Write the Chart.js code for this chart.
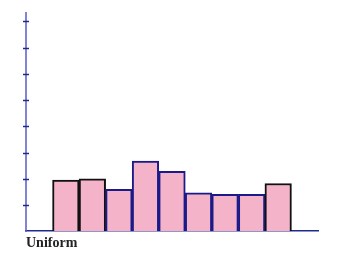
<!DOCTYPE html>
<html><head><meta charset="utf-8">
<script src="https://cdn.jsdelivr.net/npm/chart.js@4"></script>
<style>html,body{margin:0;padding:0;background:#fff}#wrap{width:338px;height:260px;position:relative}</style>
</head><body><div id="wrap"><canvas id="c"></canvas></div>
<script>
const categories = ["","1","2","3","4","5","6","7","8","9",""];
const values = [0, 1.95, 2.0, 1.6, 2.67, 2.28, 1.46, 1.41, 1.41, 1.82, 0];
const yTickValues = [1,2,3,4,5,6,7,8];
const xTitle = "Uniform";
const borderColors = ["#1a1a8a","#111111","#111111","#1a1a8a","#1a1a8a","#1a1a8a","#1a1a8a","#1a1a8a","#1a1a8a","#111111","#1a1a8a"];

const tickPlugin = {
  id: 'ytickmarks',
  afterDraw(chart) {
    const y = chart.scales.y, x = chart.scales.x;
    const ctx = chart.ctx;
    ctx.save();
    ctx.strokeStyle = '#1f2a8f';
    ctx.lineWidth = 1.5;
    yTickValues.forEach(v => {
      const py = Math.round(y.getPixelForValue(v)) + 0.5;
      ctx.beginPath();
      ctx.moveTo(x.left - 3, py);
      ctx.lineTo(x.left + 3, py);
      ctx.stroke();
    });
    ctx.restore();
  }
};

new Chart(document.getElementById('c'), {
  type: 'bar',
  data: {
    labels: categories,
    datasets: [{
      data: values,
      backgroundColor: '#f4b3c9',
      borderColor: borderColors,
      borderWidth: 2,
      borderSkipped: 'bottom',
      categoryPercentage: 1,
      barPercentage: 1
    }]
  },
  options: {
    responsive: true,
    maintainAspectRatio: false,
    animation: false,
    layout: { padding: { left: 26, right: 20, top: 13, bottom: 8 } },
    plugins: { legend: { display: false }, tooltip: { enabled: false } },
    scales: {
      x: {
        grid: { display: false, drawTicks: false },
        border: { display: true, color: '#1f2a8f', width: 1.5 },
        ticks: { display: false },
        title: {
          display: true, text: xTitle, align: 'start',
          color: '#222222',
          font: { family: '"Liberation Serif", "Times New Roman", serif', size: 14, weight: 'bold' },
          padding: { top: 4, bottom: 0 }
        }
      },
      y: {
        min: 0, max: 8.32,
        grid: { display: false, drawTicks: false },
        border: { display: true, color: 'rgba(90,90,200,0.75)', width: 2 },
        ticks: { display: false, stepSize: 1 }
      }
    }
  },
  plugins: [tickPlugin]
});
</script></body></html>
